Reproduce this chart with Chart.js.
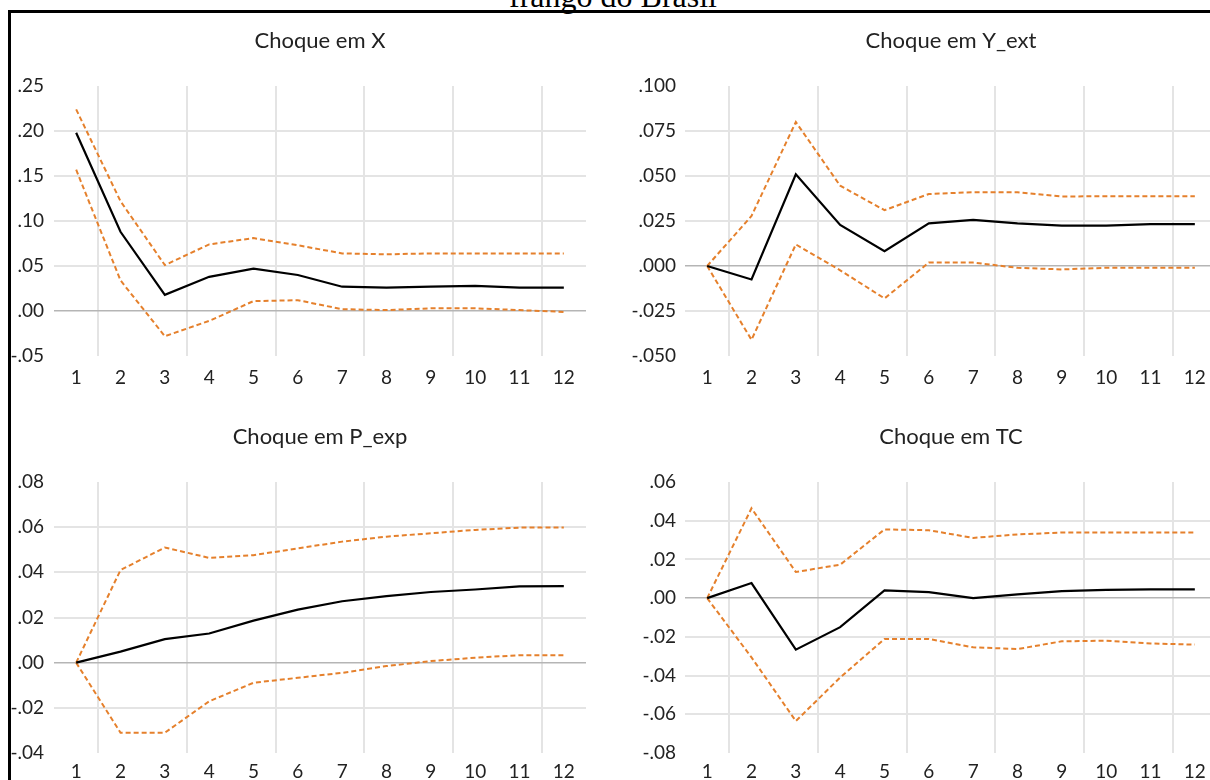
<!DOCTYPE html>
<html>
<head>
<meta charset="utf-8">
<script src="https://cdn.jsdelivr.net/npm/chart.js@4.4.1/dist/chart.umd.min.js"></script>
<style>
  html, body { margin:0; padding:0; background:#fff; width:1210px; height:780px; overflow:hidden; }
  #wrap { position:relative; width:1210px; height:780px; overflow:hidden; }
  canvas { position:absolute; }
  #frame { position:absolute; left:8px; top:10px; width:1300px; height:900px; border-left:3px solid #000; border-top:3px solid #000; pointer-events:none; z-index:5; }
  #head { position:absolute; left:0; width:1226px; top:-20px; text-align:center; font-family:"Liberation Serif","Times New Roman",serif; font-size:32px; line-height:32px; color:#000; white-space:nowrap; }
</style>
</head>
<body>
<div id="wrap">
  <div id="head">frango do Brasil</div>
  <canvas id="c1" width="605" height="390" style="left:0px;top:0px;width:605px;height:390px"></canvas>
  <canvas id="c2" width="640" height="390" style="left:605px;top:0px;width:640px;height:390px"></canvas>
  <canvas id="c3" width="605" height="390" style="left:0px;top:390px;width:605px;height:390px"></canvas>
  <canvas id="c4" width="640" height="390" style="left:605px;top:390px;width:640px;height:390px"></canvas>
  <div id="frame"></div>
</div>
<script>
// ---- data ----
const periods = ['1','2','3','4','5','6','7','8','9','10','11','12'];

const titleX = 'Choque em X';
const respX  = [0.198, 0.088, 0.018, 0.038, 0.047, 0.040, 0.027, 0.026, 0.027, 0.028, 0.026, 0.026];
const upperX = [0.224, 0.122, 0.051, 0.074, 0.081, 0.073, 0.064, 0.063, 0.064, 0.064, 0.064, 0.064];
const lowerX = [0.157, 0.034, -0.028, -0.011, 0.011, 0.012, 0.002, 0.001, 0.003, 0.003, 0.001, -0.001];
const ticksX = [-0.05, 0.00, 0.05, 0.10, 0.15, 0.20, 0.25];

const titleY = 'Choque em Y_ext';
const respY  = [0.000, -0.0075, 0.051, 0.0228, 0.0082, 0.0237, 0.0256, 0.0237, 0.0224, 0.0224, 0.0233, 0.0233];
const upperY = [0.000, 0.0278, 0.080, 0.0446, 0.031, 0.040, 0.041, 0.041, 0.0386, 0.0388, 0.0388, 0.0388];
const lowerY = [0.000, -0.041, 0.012, -0.0024, -0.018, 0.0019, 0.0019, -0.001, -0.0019, -0.001, -0.001, -0.001];
const ticksY = [-0.050, -0.025, 0.000, 0.025, 0.050, 0.075, 0.100];

const titleP = 'Choque em P_exp';
const respP  = [0.000, 0.0049, 0.0104, 0.0129, 0.0186, 0.0235, 0.0272, 0.0295, 0.0313, 0.0324, 0.0338, 0.0339];
const upperP = [0.000, 0.041, 0.051, 0.0464, 0.0476, 0.0506, 0.0536, 0.0558, 0.0573, 0.0588, 0.0598, 0.0598];
const lowerP = [0.000, -0.031, -0.031, -0.0171, -0.0089, -0.0067, -0.0045, -0.0015, 0.0007, 0.0022, 0.0033, 0.0033];
const ticksP = [-0.04, -0.02, 0.00, 0.02, 0.04, 0.06, 0.08];

const titleT = 'Choque em TC';
const respT  = [0.000, 0.0078, -0.0266, -0.015, 0.004, 0.0031, 0.000, 0.0019, 0.0036, 0.0043, 0.0045, 0.0045];
const upperT = [0.000, 0.0464, 0.0135, 0.0173, 0.0355, 0.0351, 0.0311, 0.0329, 0.0339, 0.0339, 0.0339, 0.0339];
const lowerT = [0.000, -0.0306, -0.0635, -0.041, -0.0211, -0.0211, -0.0254, -0.0263, -0.0223, -0.022, -0.0234, -0.024];
const ticksT = [-0.08, -0.06, -0.04, -0.02, 0.00, 0.02, 0.04, 0.06];

// ---- styling ----
const ORANGE = '#E5802C';
const GRID = '#e4e4e4';
const ZERO = '#b5b5b5';
const TXT = '#222';
const FONT = 'Lato, "Open Sans", sans-serif';

function fmt(v, dec) {
  if (Math.abs(v) < 1e-9) v = 0;
  return v.toFixed(dec).replace('0.', '.');
}

const titlePlugin = {
  id: 'panelTitle',
  afterDraw(chart, args, opts) {
    const { ctx, chartArea } = chart;
    ctx.save();
    ctx.font = '22px ' + FONT;
    ctx.fillStyle = TXT;
    ctx.textAlign = 'center';
    ctx.textBaseline = 'middle';
    ctx.fillText(opts.text, (chartArea.left + chartArea.right) / 2, opts.y);
    ctx.restore();
  }
};

const panels = [
  { id:'c1', title:titleX, resp:respX, up:upperX, lo:lowerX, ticks:ticksX, dec:2, yW:54, yPad:10, xPad:10, pad:{top:86, right:19, bottom:4, left:0}, xH:30, titleY:41 },
  { id:'c2', title:titleY, resp:respY, up:upperY, lo:lowerY, ticks:ticksY, dec:3, yW:80, yPad:9,  xPad:10, pad:{top:86, right:28, bottom:4, left:0}, xH:30, titleY:41 },
  { id:'c3', title:titleP, resp:respP, up:upperP, lo:lowerP, ticks:ticksP, dec:2, yW:54, yPad:10, xPad:7,  pad:{top:92, right:19, bottom:0, left:0}, xH:27, titleY:47 },
  { id:'c4', title:titleT, resp:respT, up:upperT, lo:lowerT, ticks:ticksT, dec:2, yW:80, yPad:9,  xPad:7,  pad:{top:92, right:28, bottom:0, left:0}, xH:27, titleY:47 }
];

function build(p) {
  const ymin = Math.min(...p.ticks), ymax = Math.max(...p.ticks);
  new Chart(document.getElementById(p.id), {
    type: 'line',
    data: {
      labels: periods,
      datasets: [
        { data: p.resp, borderColor: '#000', borderWidth: 2.2, pointRadius: 0, tension: 0, order: 0 },
        { data: p.up, borderColor: ORANGE, borderWidth: 2, borderDash: [5, 3], pointRadius: 0, tension: 0, order: 1 },
        { data: p.lo, borderColor: ORANGE, borderWidth: 2, borderDash: [5, 3], pointRadius: 0, tension: 0, order: 2 }
      ]
    },
    options: {
      responsive: false, animation: false, devicePixelRatio: 1,
      layout: { padding: p.pad },
      plugins: { legend: { display: false }, tooltip: { enabled: false }, title: { display: false },
                 panelTitle: { text: p.title, y: p.titleY } },
      scales: {
        x: {
          type: 'category', offset: true,
          grid: { offset: true, drawTicks: false, lineWidth: 2,
                  color: c => (c.index % 2 === 1) ? GRID : 'rgba(0,0,0,0)' },
          border: { display: false },
          ticks: { font: { family: FONT, size: 19 }, color: TXT, padding: p.xPad, maxRotation: 0, autoSkip: false },
          afterFit: s => { s.height = p.xH; }
        },
        y: {
          type: 'linear', min: ymin, max: ymax,
          afterBuildTicks: s => { s.ticks = p.ticks.map(v => ({ value: v })); },
          grid: { drawTicks: false,
                  color: c => {
                    const v = c.tick ? c.tick.value : NaN;
                    if (Math.abs(v - ymin) < 1e-9 || Math.abs(v - ymax) < 1e-9) return 'rgba(0,0,0,0)';
                    return Math.abs(v) < 1e-9 ? ZERO : GRID;
                  },
                  lineWidth: c => (c.tick && Math.abs(c.tick.value) < 1e-9) ? 1.5 : 2 },
          border: { display: false },
          ticks: { font: { family: FONT, size: 19 }, color: TXT, padding: p.yPad, callback: v => fmt(v, p.dec) },
          afterFit: s => { s.width = p.yW; }
        }
      }
    },
    plugins: [titlePlugin]
  });
}

function go() { panels.forEach(build); }
if (document.fonts && document.fonts.load) {
  Promise.all([document.fonts.load('19px Lato'), document.fonts.load('32px "Liberation Serif"')]).then(go, go);
} else { go(); }
</script>
</body>
</html>
